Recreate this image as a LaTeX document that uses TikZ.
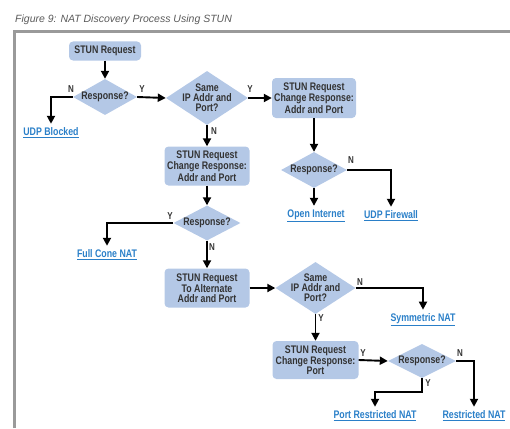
\documentclass[tikz,border=0pt]{standalone}
\usepackage{fontspec}
\setmainfont{Liberation Sans}
\newfontfamily\condfont{Liberation Sans}[FakeStretch=0.8]
\usetikzlibrary{shapes.geometric,arrows.meta}
\definecolor{boxblue}{HTML}{B4C8E6}
\definecolor{linkblue}{HTML}{2A7FC8}
\definecolor{framegray}{HTML}{9A9A9A}
\definecolor{titlegray}{HTML}{5A5A5A}
\definecolor{txtgray}{HTML}{333333}
\begin{document}
\begin{tikzpicture}[x=1pt,y=-1pt,
  stepbox/.style={rectangle,rounded corners=4pt,fill=boxblue,text=txtgray,
    font=\condfont\bfseries\fontsize{11}{10}\selectfont,align=center,inner sep=0pt},
  dia/.style={diamond,fill=boxblue,inner sep=0pt},
  dtext/.style={text=txtgray,font=\condfont\bfseries\fontsize{11}{10}\selectfont,align=center,inner sep=0pt},
  result/.style={text=linkblue,font=\condfont\bfseries\fontsize{11}{10}\selectfont,inner sep=0pt},
  yn/.style={text=txtgray,font=\condfont\bfseries\fontsize{10}{10}\selectfont,inner sep=0pt},
  arr/.style={line width=1.9pt,-{Triangle[length=8pt,width=8pt]}},
  ln/.style={line width=1.9pt}
]
\useasboundingbox (0,0) rectangle (510,428);
% title and frame
\node[anchor=west,text=titlegray,font=\itshape\fontsize{10.5}{12}\selectfont,inner sep=0pt] (title) at (15,20) {Figure 9: NAT Discovery Process Using STUN};
\draw[framegray,line width=2.5pt] (14.5,428) -- (14.5,31.5) -- (510,31.5);

% boxes
\node[stepbox,minimum width=72pt,minimum height=19pt] (b1) at (105,51) {STUN Request};
\node[stepbox,minimum width=84pt,minimum height=40pt] (b3) at (314,98) {STUN Request\\Change Response:\\Addr and Port};
\node[stepbox,minimum width=85pt,minimum height=39pt] (b5) at (207,166) {STUN Request\\Change Response:\\Addr and Port};
\node[stepbox,minimum width=85pt,minimum height=39pt] (b7) at (207,288) {STUN Request\\To Alternate\\Addr and Port};
\node[stepbox,minimum width=86pt,minimum height=38pt] (b9) at (315.5,360) {STUN Request\\Change Response:\\Port};

% diamonds
\node[dia,minimum width=64pt,minimum height=36pt] (d1) at (105,97) {};
\node[dtext] (d1t) at (d1) {Response?};
\node[dia,minimum width=82pt,minimum height=54pt] (d2) at (207,98) {};
\node[dtext] (d2t) at (d2) {Same\\IP Addr and\\Port?};
\node[dia,minimum width=66pt,minimum height=36pt] (d4) at (314,170) {};
\node[dtext] (d4t) at (d4) {Response?};
\node[dia,minimum width=67pt,minimum height=35pt] (d6) at (207,223) {};
\node[dtext] (d6t) at (d6) {Response?};
\node[dia,minimum width=80pt,minimum height=52pt] (d8) at (315.5,288) {};
\node[dtext] (d8t) at (d8) {Same\\IP Addr and\\Port?};
\node[dia,minimum width=68pt,minimum height=34pt] (d10) at (422,361) {};
\node[dtext] (d10t) at (d10) {Response?};

% results
\node[result] (ub) at (51,133) {\underline{UDP Blocked}};
\node[result] (oi) at (316,216) {\underline{Open Internet}};
\node[result] (uf) at (391,216) {\underline{UDP Firewall}};
\node[result] (fc) at (107,255) {\underline{Full Cone NAT}};
\node[result] (sn) at (423,320) {\underline{Symmetric NAT}};
\node[result] (prn) at (375,416) {\underline{Port Restricted NAT}};
\node[result] (rn) at (474,416) {\underline{Restricted NAT}};

% connectors
\draw[arr] (b1.south) -- (d1.north);
\draw[arr,shorten >=4pt] (d1.west) -| (ub.north);
\draw[arr] (d1.east) -- (d2.west);
\draw[arr] (d2.east) -- (b3.west);
\draw[arr] (b3.south) -- (d4.north);
\draw[arr,shorten >=4pt] (d4.east) -| (uf.north);
\draw[arr,shorten >=4pt] (d4.south) -- (d4.south |- oi.north);
\draw[arr] (d2.south) -- (b5.north);
\draw[arr] (b5.south) -- (d6.north);
\draw[arr,shorten >=4pt] (d6.west) -| (fc.north);
\draw[arr] (d6.south) -- (b7.north);
\draw[arr] (b7.east) -- (d8.west);
\draw[arr,shorten >=4pt] (d8.east) -| (sn.north);
\draw[arr] (d8.south) -- (b9.north);
\draw[arr] (b9.east) -- (d10.west);
\draw[arr,shorten >=4pt] (d10.east) -| (rn.north);
\draw[arr,shorten >=4pt] (d10.south) -- ++(0,14) -| (prn.north);

% Y / N labels
\node[yn] (l1) at (71,89) {N};
\node[yn] (l2) at (142,89) {Y};
\node[yn] (l3) at (250,89) {Y};
\node[yn] (l4) at (214,131) {N};
\node[yn] (l5) at (351,160) {N};
\node[yn] (l6) at (170,216) {Y};
\node[yn] (l7) at (212,247) {N};
\node[yn] (l8) at (360,282) {N};
\node[yn] (l9) at (321,318) {Y};
\node[yn] (l10) at (363,353) {Y};
\node[yn] (l11) at (460,353) {N};
\node[yn] (l12) at (428,383) {Y};
\end{tikzpicture}
\end{document}
